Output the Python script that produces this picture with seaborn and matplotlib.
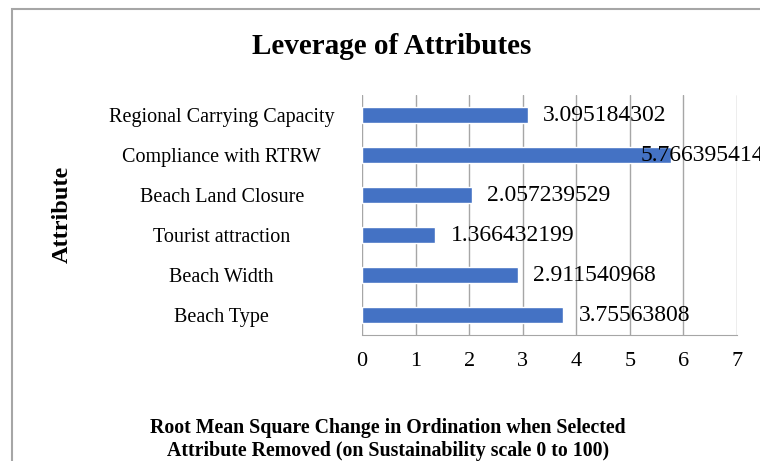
import seaborn as sns
import matplotlib.pyplot as plt
import matplotlib.patches as patches
import pandas as pd

# data (top to bottom)
attributes = ["Regional Carrying Capacity", "Compliance with RTRW", "Beach Land Closure",
              "Tourist attraction", "Beach Width", "Beach Type"]
rms_change = [3.095184302, 5.766395414, 2.057239529, 1.366432199, 2.911540968, 3.75563808]
value_labels = ["3.095184302", "5.766395414", "2.057239529", "1.366432199", "2.911540968", "3.75563808"]
x_ticks = [0, 1, 2, 3, 4, 5, 6, 7]

df = pd.DataFrame({"Attribute": attributes, "RMS": rms_change})

sns.set_style("white")
plt.rcParams["font.family"] = ["Liberation Serif", "DejaVu Serif"]
plt.rcParams["text.color"] = "black"
plt.rcParams["xtick.color"] = "black"
plt.rcParams["ytick.color"] = "black"

fig = plt.figure(figsize=(7.6, 4.61), dpi=100)
ax = fig.add_axes([362 / 760, 126 / 461, 375 / 760, 240 / 461])

sns.barplot(data=df, x="RMS", y="Attribute", color="#4472C4", width=0.4,
            saturation=1, ax=ax, orient="h")

ax.set_xlim(0, 7)
ax.set_ylim(5.5, -0.5)
ax.set_xticks(x_ticks)
ax.set_xticklabels([str(t) for t in x_ticks], fontsize=16)
ax.xaxis.grid(True, color="#a6a6a6", linewidth=1)
ax.set_axisbelow(True)
for s in ["top", "right", "left"]:
    ax.spines[s].set_visible(False)
ax.spines["bottom"].set_color("#a6a6a6")
ax.tick_params(axis="x", length=6, color="#a6a6a6", labelcolor="black", pad=6)
ax.tick_params(axis="y", length=0, pad=101, labelsize=14.5, labelcolor="black")
for lab in ax.get_yticklabels():
    lab.set_horizontalalignment("center")
ax.set_xlabel("")
ax.set_ylabel("")

# value labels
for i, (v, txt) in enumerate(zip(rms_change, value_labels)):
    if v > 5:
        ax.annotate(txt, xy=(1.0, i), xycoords=("figure fraction", "data"),
                    xytext=(3, 0), textcoords="offset points",
                    ha="right", va="center", fontsize=17)
    else:
        ax.annotate(txt, xy=(v, i), xytext=(11, 0), textcoords="offset points",
                    ha="left", va="center", fontsize=17)

fig.text(392 / 760, 1 - 47 / 461, "Leverage of Attributes", ha="center", va="center",
         fontsize=21, fontweight="bold")
fig.text(62 / 760, 1 - 214 / 461, "Attribute", rotation=90, ha="center", va="center",
         fontsize=17.5, fontweight="bold")
fig.text(388 / 760, 1 - 439 / 461,
         "Root Mean Square Change in Ordination when Selected\nAttribute Removed (on Sustainability scale 0 to 100)",
         ha="center", va="center", fontsize=14.3, fontweight="bold", linespacing=1.2)

# outer chart border
fig.patches.append(patches.Rectangle((12 / 760, -0.1), 1.1, 1 - 9 / 461 + 0.1,
                                     transform=fig.transFigure, fill=False,
                                     edgecolor="#a6a6a6", linewidth=1.5))

fig.savefig("out.png", dpi=100)
